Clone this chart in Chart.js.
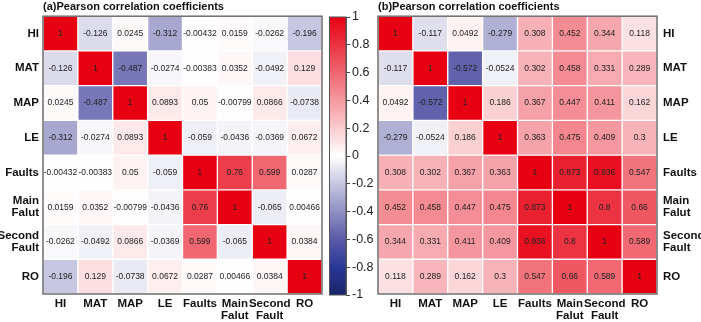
<!DOCTYPE html>
<html>
<head>
<meta charset="utf-8">
<script src="https://cdn.jsdelivr.net/npm/chart.js@4.4.1/dist/chart.umd.min.js"></script>
<style>
    body { margin: 0; background: #fff; }
    #wrap { position: relative; width: 701px; height: 322px; overflow: hidden; }
    canvas { position: absolute; top: 0; }
</style>
</head>
<body>
<div id="wrap">
    <canvas id="chartA" width="330" height="322" style="left:0"></canvas>
    <canvas id="colorBar" width="60" height="322" style="left:322px"></canvas>
    <canvas id="chartB" width="331" height="322" style="left:370px"></canvas>
</div>
<script>
const xLabels = ["HI", "MAT", "MAP", "LE", "Faults", ["Main", "Falut"], ["Second", "Fault"], "RO"];
const yLabels = ["HI", "MAT", "MAP", "LE", "Faults", ["Main", "Falut"], ["Second", "Fault"], "RO"];

const valuesA = [
    [1, -0.126, 0.0245, -0.312, -0.00432, 0.0159, -0.0262, -0.196],
    [-0.126, 1, -0.487, -0.0274, -0.00383, 0.0352, -0.0492, 0.129],
    [0.0245, -0.487, 1, 0.0893, 0.05, -0.00799, 0.0866, -0.0738],
    [-0.312, -0.0274, 0.0893, 1, -0.059, -0.0436, -0.0369, 0.0672],
    [-0.00432, -0.00383, 0.05, -0.059, 1, 0.76, 0.599, 0.0287],
    [0.0159, 0.0352, -0.00799, -0.0436, 0.76, 1, -0.065, 0.00466],
    [-0.0262, -0.0492, 0.0866, -0.0369, 0.599, -0.065, 1, 0.0384],
    [-0.196, 0.129, -0.0738, 0.0672, 0.0287, 0.00466, 0.0384, 1]
];

const valuesB = [
    [1, -0.117, 0.0492, -0.279, 0.308, 0.452, 0.344, 0.118],
    [-0.117, 1, -0.572, -0.0524, 0.302, 0.458, 0.331, 0.289],
    [0.0492, -0.572, 1, 0.186, 0.367, 0.447, 0.411, 0.162],
    [-0.279, -0.0524, 0.186, 1, 0.363, 0.475, 0.409, 0.3],
    [0.308, 0.302, 0.367, 0.363, 1, 0.873, 0.936, 0.547],
    [0.452, 0.458, 0.447, 0.475, 0.873, 1, 0.8, 0.66],
    [0.344, 0.331, 0.411, 0.409, 0.936, 0.8, 1, 0.589],
    [0.118, 0.289, 0.162, 0.3, 0.547, 0.66, 0.589, 1]
];

const colorBarTicks = [1, 0.8, 0.6, 0.4, 0.2, 0, -0.2, -0.4, -0.6, -0.8, -1];

const FONT = "'Liberation Sans', Arial, sans-serif";
Chart.defaults.font.family = FONT;
Chart.defaults.color = "#111";

// colour ramp: white -> red for positive, white -> navy for negative
const posStops = [[0, [255, 255, 255]], [1, [230, 0, 18]]];
const negStops = [[0, [255, 255, 255]], [0.3, [170, 170, 210]], [0.6, [90, 90, 168]], [0.8, [40, 55, 150]], [1, [25, 35, 105]]];

function corrColor(v) {
    const stops = v >= 0 ? posStops : negStops;
    const t = Math.min(1, Math.abs(v));
    for (let i = 1; i < stops.length; i++) {
        if (t <= stops[i][0]) {
            const [t0, c0] = stops[i - 1];
            const [t1, c1] = stops[i];
            const f = (t - t0) / (t1 - t0);
            const c = c0.map((a, k) => Math.round(a + (c1[k] - a) * f));
            return `rgb(${c[0]},${c[1]},${c[2]})`;
        }
    }
    return "rgb(255,255,255)";
}

function frameAndText(values) {
    return {
        id: "frameAndText",
        afterDatasetsDraw(chart) {
            const { ctx, chartArea: a, scales: { x, y } } = chart;
            const n = values.length;
            ctx.save();
            ctx.font = "8.5px " + FONT;
            ctx.fillStyle = "#222";
            ctx.textAlign = "center";
            ctx.textBaseline = "middle";
            values.forEach((row, i) => {
                row.forEach((v, j) => {
                    ctx.fillText(String(v), x.getPixelForValue(j), y.getPixelForValue(n - 0.5 - i));
                });
            });
            ctx.strokeStyle = "#6e6e6e";
            ctx.lineWidth = 1.5;
            ctx.strokeRect(a.left, a.top, a.right - a.left, a.bottom - a.top);
            ctx.restore();
        }
    };
}

function heatmap(id, title, values, side) {
    const n = values.length;
    const datasets = values.map((row, i) => ({
        data: row.map(() => [n - 1 - i, n - i]),
        backgroundColor: row.map(v => corrColor(v)),
        borderColor: "rgba(255,255,255,0.45)",
        borderWidth: 1,
        borderSkipped: false,
        grouped: false,
        barPercentage: 1,
        categoryPercentage: 1
    }));

    return new Chart(document.getElementById(id), {
        type: "bar",
        data: { labels: xLabels, datasets: datasets },
        options: {
            responsive: false,
            animation: false,
            events: [],
            layout: { padding: side === "left" ? { left: 0, right: 8 } : { left: 8, right: 0 } },
            plugins: {
                legend: { display: false },
                tooltip: { enabled: false },
                title: {
                    display: true,
                    text: title,
                    align: "start",
                    fullSize: false,
                    color: "#111",
                    font: { size: 11, weight: "bold" },
                    padding: { top: 0, bottom: 3 }
                }
            },
            scales: {
                x: {
                    grid: { display: false, drawTicks: false },
                    border: { display: false },
                    ticks: {
                        font: { size: 11.5, weight: "bold", lineHeight: 1.05 },
                        color: "#111",
                        padding: 4,
                        maxRotation: 0,
                        autoSkip: false
                    },
                    afterFit: s => { s.height = 28; }
                },
                y: {
                    position: side,
                    min: 0,
                    max: n,
                    grid: { display: false, drawTicks: false },
                    border: { display: false },
                    afterBuildTicks: s => { s.ticks = yLabels.map((_, i) => ({ value: n - 0.5 - i })); },
                    ticks: {
                        font: { size: 11.5, weight: "bold", lineHeight: 1.05 },
                        color: "#111",
                        padding: side === "left" ? 4 : 6,
                        autoSkip: false,
                        callback: (v, i) => yLabels[i]
                    },
                    afterFit: s => { s.width = side === "left" ? 43 : 44; }
                }
            }
        },
        plugins: [frameAndText(values)]
    });
}

heatmap("chartA", "(a)Pearson correlation coefficients", valuesA, "left");
heatmap("chartB", "(b)Pearson correlation coefficients", valuesB, "right");

function barGradient(chart) {
    const a = chart.chartArea;
    if (!a) return null;
    const g = chart.ctx.createLinearGradient(0, a.bottom, 0, a.top);
    for (let k = 0; k <= 40; k++) {
        const t = k / 40;
        g.addColorStop(t, corrColor(-1 + 2 * t));
    }
    return g;
}

new Chart(document.getElementById("colorBar"), {
    type: "bar",
    data: {
        labels: [""],
        datasets: [{
            data: [[-1, 1]],
            backgroundColor: ctx => barGradient(ctx.chart),
            borderWidth: 0,
            barPercentage: 1,
            categoryPercentage: 1
        }]
    },
    options: {
        responsive: false,
        animation: false,
        events: [],
        layout: { padding: { left: 7, top: 17, bottom: 27, right: 0 } },
        plugins: { legend: { display: false }, tooltip: { enabled: false } },
        scales: {
            x: { display: false },
            y: {
                position: "right",
                min: -1,
                max: 1,
                afterBuildTicks: s => { s.ticks = colorBarTicks.map(v => ({ value: v })); },
                ticks: { font: { size: 12.5 }, color: "#222", padding: 2, callback: v => String(v) },
                grid: { drawOnChartArea: false, tickLength: 4, color: "#444" },
                border: { display: true, color: "#555" },
                afterFit: s => { s.width = 36; }
            }
        }
    },
    plugins: [{
        id: "barFrame",
        afterDatasetsDraw(chart) {
            const { ctx, chartArea: a } = chart;
            ctx.save();
            ctx.strokeStyle = "#555";
            ctx.lineWidth = 1;
            ctx.strokeRect(a.left + 0.5, a.top, a.right - a.left - 0.5, a.bottom - a.top);
            ctx.restore();
        }
    }]
});
</script>
</body>
</html>
